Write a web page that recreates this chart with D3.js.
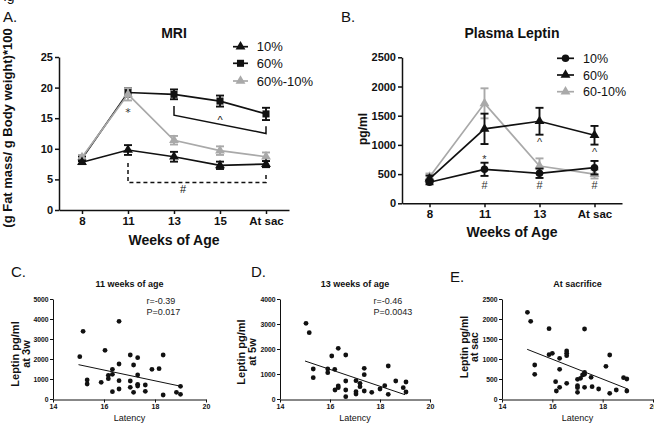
<!DOCTYPE html>
<html><head><meta charset="utf-8">
<script src="https://cdn.jsdelivr.net/npm/d3@7"></script>
<style>body{margin:0;background:#fff} svg{display:block}</style>
</head><body>
<svg id="c" width="654" height="431"></svg>
<script>
// ---------- Panel A: MRI ----------
const weeksA = ["8","11","13","15","At sac"];
const mri10 = [7.8, 9.8, 8.7, 7.3, 7.5];
const mri10Err = [0.3, 0.8, 0.8, 0.6, 0.5];
const mri60 = [8.4, 19.2, 18.9, 17.8, 15.7];
const mri60Err = [0.4, 0.7, 0.8, 0.9, 1.0];
const mri6010 = [8.6, 18.9, 11.4, 9.7, 8.7];
const mri6010Err = [0.4, 1.0, 0.7, 0.7, 0.7];
const mriTicks = [0, 5, 10, 15, 20, 25];
const mriLegend = ["10%", "60%", "60%-10%"];
const mriBracketSolid = [["13", 17.0], ["13", 15.5], ["At sac", 12.5], ["At sac", 13.7]];
const mriBracketDash = [["11", 7.7], ["11", 4.5], ["At sac", 4.5], ["At sac", 6.1]];

// ---------- Panel B: Plasma Leptin ----------
const weeksB = ["8","11","13","At sac"];
const lep10 = [360, 582, 514, 610];
const lep10Err = [35, 113, 80, 115];
const lep60 = [420, 1275, 1405, 1165];
const lep60Err = [55, 260, 230, 160];
const lep6010 = [450, 1712, 639, 500];
const lep6010Err = [60, 257, 130, 75];
const lepTicks = [0, 500, 1000, 1500, 2000, 2500];
const lepLegend = ["10%", "60%", "60-10%"];
const lepMarks = [["11", 793, "*"], ["11", 313, "#"], ["13", 313, "#"], ["At sac", 313, "#"], ["13", 1084, "^"], ["At sac", 913, "^"]];

// ---------- Panels C, D, E: scatter ----------
const latencyTicks = [14, 16, 18, 20];
const latC = [15.05,15.18,15.34,15.34,15.89,16.04,16.17,16.17,16.33,16.33,16.33,16.59,16.59,16.59,16.59,17.03,17.03,17.03,17.16,17.16,17.32,17.32,17.32,17.32,17.62,17.62,17.88,18.16,18.32,18.32,18.84,19.0,19.0];
const lepC = [2117,3383,950,750,833,2433,1183,1017,1483,1233,367,3883,1750,917,500,2200,900,583,1700,333,2067,1200,733,650,700,383,1483,1517,2200,200,333,633,233];
const fitC = [[15, 1717], [19, 640]];
const ticksC = [0, 1000, 2000, 3000, 4000, 5000];

const latD = [15.04,15.17,15.33,15.33,15.91,15.91,16.07,16.19,16.2,16.33,16.33,16.33,16.63,16.63,16.63,16.63,17.04,17.04,17.04,17.2,17.2,17.37,17.37,17.37,17.67,18.0,18.19,18.33,18.33,18.63,18.93,19.04,19.04];
const lepD = [3027,2653,1200,853,1200,1053,1720,1187,360,520,453,2027,1760,720,360,93,733,293,200,627,493,1227,973,320,267,400,533,1320,187,720,453,680,280];
const fitD = [[15, 1520], [19, 173]];
const ticksD = [0, 1000, 2000, 3000, 4000];

const latE = [15.01,15.14,15.3,15.3,15.87,15.87,16.0,16.13,16.16,16.29,16.29,16.29,16.57,16.57,16.57,16.57,17.0,17.0,17.0,17.0,17.12,17.2,17.28,17.28,17.28,17.28,17.54,17.58,17.84,18.13,18.28,18.28,18.54,18.83,18.96,18.96];
const lepE = [2167,1942,850,617,1758,1108,1142,433,200,1017,742,292,1200,1142,1083,392,492,333,283,167,517,600,1750,667,617,292,542,308,250,817,1100,142,225,533,500,200];
const fitE = [[15, 1242], [19, 250]];
const ticksE = [0, 500, 1000, 1500, 2000, 2500];

const BLACK = "#111", GRAY = "#a9a9a9";
const FONT = "'Liberation Sans', Arial, sans-serif";
const fmt = d3.format("d");
const svg = d3.select("#c").attr("font-family", FONT);

function txt(x, y, s, o = {}) {
  const t = svg.append("text").attr("x", x).attr("y", y).text(s)
    .attr("font-size", o.size || 12).attr("font-weight", o.bold ? "bold" : "normal")
    .attr("fill", o.fill || BLACK).attr("text-anchor", o.anchor || "start");
  if (o.rot) t.attr("transform", `rotate(-90,${x},${y})`);
  if (o.family) t.attr("font-family", o.family);
  return t;
}

function styleAxis(g, fs, sw) {
  g.selectAll("path.domain").attr("stroke", BLACK).attr("stroke-width", sw);
  g.selectAll(".tick line").attr("stroke", BLACK).attr("stroke-width", sw);
  g.selectAll(".tick text").attr("font-size", fs).attr("font-weight", "bold")
    .attr("font-family", FONT).attr("fill", BLACK);
}

function series(g, x, y, cats, vals, errs, color, sym, size, cap) {
  const line = d3.line().x((d, i) => x(cats[i])).y(d => y(d));
  g.append("path").datum(vals).attr("d", line).attr("fill", "none")
    .attr("stroke", color).attr("stroke-width", 1.7);
  vals.forEach((v, i) => {
    const cx = x(cats[i]);
    const e = g.append("g").attr("stroke", color).attr("stroke-width", 1.9);
    e.append("line").attr("x1", cx).attr("x2", cx).attr("y1", y(v - errs[i])).attr("y2", y(v + errs[i]));
    [v - errs[i], v + errs[i]].forEach(w => e.append("line")
      .attr("x1", cx - cap).attr("x2", cx + cap).attr("y1", y(w)).attr("y2", y(w)));
    g.append("path").attr("d", d3.symbol().type(sym).size(size)())
      .attr("transform", `translate(${cx},${y(v)})`).attr("fill", color);
  });
}

function legendRow(x0, x1, yy, tx, label, color, sym, size, fs) {
  svg.append("line").attr("x1", x0).attr("x2", x1).attr("y1", yy).attr("y2", yy)
    .attr("stroke", color).attr("stroke-width", 1.7);
  svg.append("path").attr("d", d3.symbol().type(sym).size(size)())
    .attr("transform", `translate(${(x0 + x1) / 2},${yy})`).attr("fill", color);
  txt(tx, yy + fs * 0.36, label, { size: fs });
}

// fragment of the page heading above the figure
txt(-5, 0.5, "Fig", { size: 14 });

// ================= Panel A =================
const xA = d3.scalePoint().domain(weeksA).range([59, 289]).padding(0.5);
const yA = d3.scaleLinear().domain([0, 25]).range([210, 57]);
const gA = svg.append("g");
styleAxis(gA.append("g").attr("transform", "translate(59,0)")
  .call(d3.axisLeft(yA).tickValues(mriTicks).tickFormat(fmt).tickSize(4).tickSizeOuter(0).tickPadding(2)), 11, 1.5);
styleAxis(gA.append("g").attr("transform", "translate(0,210)")
  .call(d3.axisBottom(xA).tickSize(4).tickSizeOuter(0).tickPadding(3)), 11.5, 1.5);

const brLine = d3.line().x(d => xA(d[0])).y(d => yA(d[1]));
gA.append("path").datum(mriBracketSolid).attr("d", brLine).attr("fill", "none")
  .attr("stroke", BLACK).attr("stroke-width", 1.5);
gA.append("path").datum(mriBracketDash).attr("d", brLine).attr("fill", "none")
  .attr("stroke", BLACK).attr("stroke-width", 1.5).attr("stroke-dasharray", "4,3");

series(gA, xA, yA, weeksA, mri60, mri60Err, BLACK, d3.symbolSquare, 50, 4);
series(gA, xA, yA, weeksA, mri6010, mri6010Err, GRAY, d3.symbolTriangle, 42, 4);
series(gA, xA, yA, weeksA, mri10, mri10Err, BLACK, d3.symbolTriangle, 42, 4);

txt(xA("11"), yA(16.4) + 6, "*", { size: 11, anchor: "middle", fill: "#333", family: "'DejaVu Sans', sans-serif" });
txt(xA("15"), yA(15.1) + 6, "^", { size: 11, anchor: "middle" });
txt(xA("13") + 9, yA(3.4) + 4, "#", { size: 11, anchor: "middle" });

txt(3, 22, "A.", { size: 15 });
txt(174, 38, "MRI", { size: 14, bold: true, anchor: "middle" });
txt(174, 244.5, "Weeks of Age", { size: 14, bold: true, anchor: "middle" });
txt(11.5, 128, "(g Fat mass/ g Body weight)*100", { size: 13, bold: true, anchor: "middle", rot: true });

legendRow(233, 248, 46.7, 256.7, mriLegend[0], BLACK, d3.symbolTriangle, 42, 13);
legendRow(233, 248, 63.3, 256.7, mriLegend[1], BLACK, d3.symbolSquare, 50, 13);
legendRow(233, 248, 81, 256.7, mriLegend[2], GRAY, d3.symbolTriangle, 42, 13);

// ================= Panel B =================
const xB = d3.scalePoint().domain(weeksB).range([402, 622]).padding(0.5);
const yB = d3.scaleLinear().domain([0, 2500]).range([203.3, 57.3]);
const gB = svg.append("g");
styleAxis(gB.append("g").attr("transform", "translate(402,0)")
  .call(d3.axisLeft(yB).tickValues(lepTicks).tickFormat(fmt).tickSize(4).tickSizeOuter(0).tickPadding(2)), 11, 1.5);
styleAxis(gB.append("g").attr("transform", "translate(0,203.3)")
  .call(d3.axisBottom(xB).tickSize(4).tickSizeOuter(0).tickPadding(3)), 11.5, 1.5);

series(gB, xB, yB, weeksB, lep6010, lep6010Err, GRAY, d3.symbolTriangle, 42, 4);
series(gB, xB, yB, weeksB, lep60, lep60Err, BLACK, d3.symbolTriangle, 42, 4);
series(gB, xB, yB, weeksB, lep10, lep10Err, BLACK, d3.symbolCircle, 45, 4);

lepMarks.forEach(m => {
  const off = m[2] === "#" ? 4 : 6;
  txt(xB(m[0]), yB(m[1]) + off, m[2], { size: 11, anchor: "middle", fill: "#333" });
});

txt(341, 22, "B.", { size: 15 });
txt(512, 38, "Plasma Leptin", { size: 14, bold: true, anchor: "middle" });
txt(512, 237, "Weeks of Age", { size: 14, bold: true, anchor: "middle" });
txt(366.5, 129, "pg/ml", { size: 12, bold: true, anchor: "middle", rot: true });

legendRow(557, 574, 58.3, 583, lepLegend[0], BLACK, d3.symbolCircle, 45, 12.5);
legendRow(557, 574, 75, 583, lepLegend[1], BLACK, d3.symbolTriangle, 42, 12.5);
legendRow(557, 574, 91.7, 583, lepLegend[2], GRAY, d3.symbolTriangle, 42, 12.5);

// ================= Scatter panels =================
function scatter(cfg) {
  const x = d3.scaleLinear().domain([14, 20]).range([cfg.x0, cfg.x1]);
  const y = d3.scaleLinear().domain([0, cfg.ymax]).range([399, 299]);
  const g = svg.append("g");
  styleAxis(g.append("g").attr("transform", `translate(${cfg.x0},0)`)
    .call(d3.axisLeft(y).tickValues(cfg.yt).tickFormat(fmt).tickSize(3).tickSizeOuter(0).tickPadding(1.5)), 6.8, 1);
  styleAxis(g.append("g").attr("transform", "translate(0,399.5)")
    .call(d3.axisBottom(x).tickValues(latencyTicks).tickFormat(fmt).tickSize(3).tickSizeOuter(0).tickPadding(1.5)), 7, 1);
  g.append("path").datum(cfg.fit)
    .attr("d", d3.line().x(d => x(d[0])).y(d => y(d[1])))
    .attr("stroke", BLACK).attr("stroke-width", 1).attr("fill", "none");
  g.selectAll("circle.pt").data(cfg.lat).join("circle").attr("class", "pt")
    .attr("cx", d => x(d)).attr("cy", (d, i) => y(cfg.lep[i])).attr("r", 2.4).attr("fill", BLACK);
  const cx = (cfg.x0 + cfg.x1) / 2;
  txt(cx, 287, cfg.title, { size: 9, bold: true, anchor: "middle" });
  txt(cx, 421, "Latency", { size: 9, anchor: "middle" });
  txt(cfg.lx, cfg.ly, cfg.letter, { size: 15 });
  txt(cfg.yl1, cfg.ylc, "Leptin pg/ml", { size: cfg.yls, bold: true, anchor: "middle", rot: true });
  txt(cfg.yl2, cfg.ylc, cfg.ylab2, { size: cfg.yls, bold: true, anchor: "middle", rot: true });
  if (cfg.r) {
    txt(cfg.x0 + 93.5, 304, cfg.r, { size: 9, fill: "#222" });
    txt(cfg.x0 + 93.5, 314.5, cfg.p, { size: 9, fill: "#222" });
  }
}

scatter({ x0: 53, x1: 206, ymax: 5000, yt: ticksC, lat: latC, lep: lepC, fit: fitC,
  title: "11 weeks of age", letter: "C.", lx: 11, ly: 277, yl1: 18.5, yl2: 29.5, ylc: 354, yls: 11,
  ylab2: "at 3w", r: "r=-0.39", p: "P=0.017" });
scatter({ x0: 280, x1: 430, ymax: 4000, yt: ticksD, lat: latD, lep: lepD, fit: fitD,
  title: "13 weeks of age", letter: "D.", lx: 251, ly: 277, yl1: 245, yl2: 256, ylc: 352, yls: 11,
  ylab2: "at 5w", r: "r=-0.46", p: "P=0.0043" });
scatter({ x0: 502, x1: 653, ymax: 2500, yt: ticksE, lat: latE, lep: lepE, fit: fitE,
  title: "At sacrifice", letter: "E.", lx: 450, ly: 282, yl1: 468, yl2: 478, ylc: 347, yls: 10.5,
  ylab2: "at sac" });
</script>
</body></html>
